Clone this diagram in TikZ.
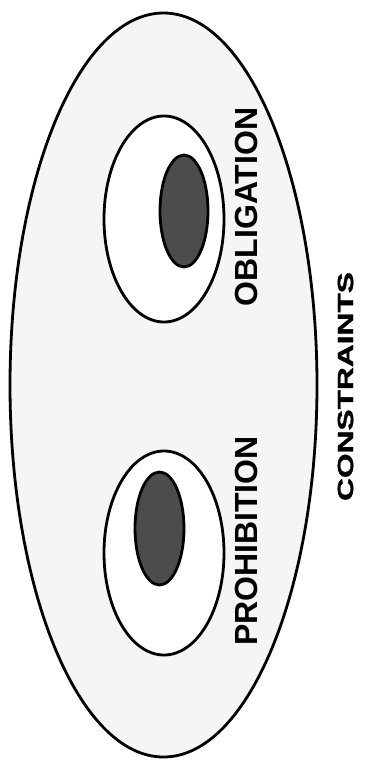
\documentclass[tikz,border=0pt]{standalone}
\usepackage{fontspec}
\usepackage{graphicx}
\setmainfont{Liberation Sans}
\newfontfamily\heavyfont[FakeBold=1.2]{Liberation Sans Bold}
\tikzset{
  setline/.style={line width=2.8pt},
  outerset/.style={setline,fill=black!4},
  innerset/.style={setline,fill=white},
  coreset/.style={setline,fill=black!70},
  setlabel/.style={inner sep=0pt,font=\bfseries\fontsize{32}{36}\selectfont},
}
\begin{document}
\begin{tikzpicture}[x=1pt,y=-1pt]
\useasboundingbox (0,0) rectangle (365,780);

\draw[outerset] (163.5,385) ellipse (153.5 and 372);

\draw[innerset] (164,219) ellipse (60 and 103);
\draw[coreset] (184,211) ellipse (24 and 56);

\draw[innerset] (164,553) ellipse (60 and 102);
\draw[coreset] (159.5,528.5) ellipse (24.5 and 56.5);

\node[setlabel] (obligation) at (246.5,207) {\rotatebox{90}{OBLIGATION}};
\node[setlabel] (prohibition) at (246.5,541) {\rotatebox{90}{PROHIBITION}};
\node[setlabel,font=\heavyfont\fontsize{22}{24}\selectfont] (constraints) at (345.5,386.5)
  {\rotatebox{90}{\scalebox{1.44}[1]{CONSTRAINTS}}};
\end{tikzpicture}
\end{document}
